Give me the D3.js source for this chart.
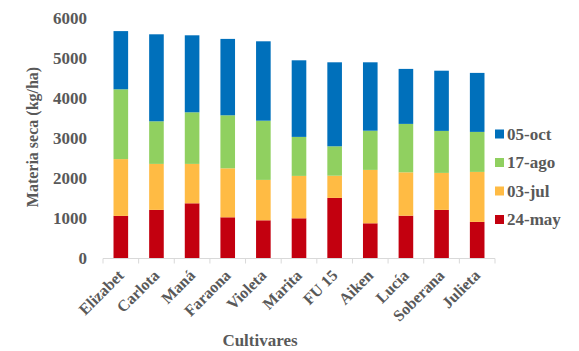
<!DOCTYPE html>
<html>
<head>
<meta charset="utf-8">
<script src="https://cdn.jsdelivr.net/npm/d3@7"></script>
<style>
body { margin: 0; background: #fff; }
text { font-family: "Liberation Serif", "Times New Roman", serif; font-weight: bold; fill: #595959; }
</style>
</head>
<body>
<svg id="chart" width="579" height="351"></svg>
<script>
// data (kg/ha per cut)
var cultivares = ["Elizabet", "Carlota", "Maná", "Faraona", "Violeta", "Marita", "FU 15", "Aiken", "Lucía", "Soberana", "Julieta"];
var may24 = [1060, 1210, 1375, 1025, 950, 1000, 1510, 875, 1065, 1210, 910];
var jul03 = [1420, 1150, 985, 1225, 1010, 1060, 555, 1335, 1085, 925, 1250];
var ago17 = [1745, 1065, 1290, 1325, 1480, 975, 735, 980, 1210, 1050, 1000];
var oct05 = [1455, 2175, 1925, 1910, 1985, 1915, 2100, 1710, 1375, 1505, 1475];
var series_names = ["24-may", "03-jul", "17-ago", "05-oct"];
var series_colors = ["#c3000f", "#ffbb44", "#90d060", "#0070bb"];
var y_ticks = [0, 1000, 2000, 3000, 4000, 5000, 6000];

var svg = d3.select("#chart");
var margin = {top: 18, left: 103, right: 84, bottom: 93};
var width = 579, height = 351;

var rows = cultivares.map(function(c, i) {
    return {name: c, "24-may": may24[i], "03-jul": jul03[i], "17-ago": ago17[i], "05-oct": oct05[i]};
});

var stack = d3.stack().keys(series_names)(rows);

var xScale = d3.scaleBand()
    .domain(cultivares)
    .range([margin.left, width - margin.right])
    .paddingInner(0.59)
    .paddingOuter(0.295);

var yScale = d3.scaleLinear()
    .domain([0, 6000])
    .range([258.3, 18.3]);

var color = d3.scaleOrdinal().domain(series_names).range(series_colors);

// bars
svg.append("g")
    .selectAll("g")
    .data(stack)
    .enter()
    .append("g")
    .attr("fill", function(d) { return color(d.key); })
    .selectAll("rect")
    .data(function(d) { return d; })
    .enter()
    .append("rect")
    .attr("x", function(d) { return xScale(d.data.name); })
    .attr("width", xScale.bandwidth())
    .attr("y", function(d) { return yScale(d[1]); })
    .attr("height", function(d) { return yScale(d[0]) - yScale(d[1]); });

// x axis line + ticks between categories
var axis_y = 258.5;
var x0 = margin.left, x1 = width - margin.right;
svg.append("line")
    .attr("x1", x0).attr("x2", x1)
    .attr("y1", axis_y).attr("y2", axis_y)
    .style("stroke", "#d9d9d9").style("stroke-width", 1);

var step = xScale.step();
svg.append("g")
    .selectAll("line")
    .data(d3.range(cultivares.length + 1))
    .enter()
    .append("line")
    .attr("x1", function(i) { return x0 + i * step; })
    .attr("x2", function(i) { return x0 + i * step; })
    .attr("y1", axis_y).attr("y2", axis_y + 5)
    .style("stroke", "#d9d9d9");

// x labels rotated
svg.append("g")
    .selectAll("text")
    .data(cultivares)
    .enter()
    .append("text")
    .attr("transform", function(d) {
        return "translate(" + (xScale(d) + xScale.bandwidth() / 2 + 0) + "," + (axis_y + 14) + ") rotate(-45)";
    })
    .attr("text-anchor", "end")
    .attr("dy", "0.35em")
    .style("font-size", "16px")
    .text(function(d) { return d; });

// y tick labels
svg.append("g")
    .selectAll("text")
    .data(y_ticks)
    .enter()
    .append("text")
    .attr("x", 87)
    .attr("y", function(d) { return yScale(d); })
    .attr("dy", "0.35em")
    .attr("text-anchor", "end")
    .style("font-size", "17px")
    .text(function(d) { return d; });

// axis titles
svg.append("text")
    .attr("transform", "translate(38,137) rotate(-90)")
    .attr("text-anchor", "middle")
    .style("font-size", "16px")
    .text("Materia seca (kg/ha)");

svg.append("text")
    .attr("x", 260)
    .attr("y", 346)
    .attr("text-anchor", "middle")
    .style("font-size", "17px")
    .text("Cultivares");

// legend (reverse order, top = last series)
var legend = svg.append("g")
    .selectAll("g")
    .data(series_names.slice().reverse())
    .enter()
    .append("g")
    .attr("transform", function(d, i) { return "translate(495," + (134 + i * 28.5) + ")"; });

legend.append("rect")
    .attr("x", 0).attr("y", -4.5)
    .attr("width", 9).attr("height", 9)
    .attr("fill", function(d) { return color(d); });

legend.append("text")
    .attr("x", 12)
    .attr("dy", "0.35em")
    .style("font-size", "17px")
    .text(function(d) { return d; });
</script>
</body>
</html>
